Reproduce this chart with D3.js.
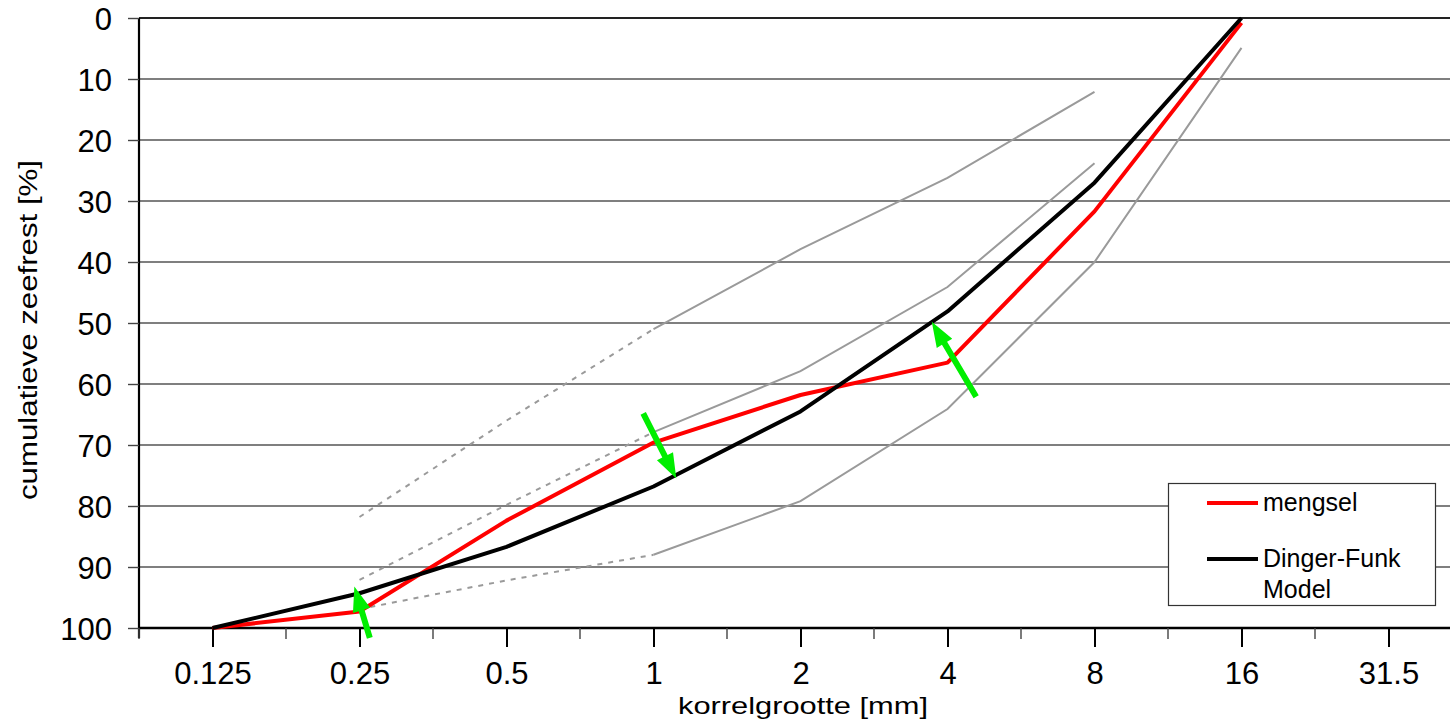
<!DOCTYPE html>
<html>
<head>
<meta charset="utf-8">
<script src="https://cdn.jsdelivr.net/npm/d3@7"></script>
<style>
  html, body { margin: 0; padding: 0; background: #fff; }
  svg { display: block; font-family: "Liberation Sans", Arial, sans-serif; }
</style>
</head>
<body>
<svg id="chart" width="1450" height="727"></svg>
<script>
// ---- data ----
const categories = ["0.125", "0.25", "0.5", "1", "2", "4", "8", "16", "31.5"];
const yTicks = [0, 10, 20, 30, 40, 50, 60, 70, 80, 90, 100];

const mengsel    = [100, 97.3, 82.4, 69.6, 61.8, 56.5, 31.7, 0.8];
const dingerFunk = [100, 94.3, 86.7, 76.8, 64.5, 48.1, 27.0, 0.0];

// grading limit lines (gray): dotted part starts at "0.25", solid part starts at "1"
const upperDotted  = [81.8, 66.0, 51.0];
const upperSolid   = [51.0, 37.9, 26.2, 12.1];
const middleDotted = [92.1, 79.8, 67.9];
const middleSolid  = [67.9, 57.9, 44.1, 23.8];
const lowerDotted  = [96.9, 92.2, 88.0];
const lowerSolid   = [88.0, 79.2, 64.1, 40.0, 4.9];

// annotation arrows: [tailIndex, tailValue, tipIndex, tipValue] (category index, % value)
const arrows = [
  [1.07, 101.6, 0.965, 93.2],
  [2.93, 64.8, 3.155, 75.5],
  [5.195, 62.1, 4.893, 49.8]
];

const legendItems = [
  { label: ["mengsel"], color: "#ff0000" },
  { label: ["Dinger-Funk", "Model"], color: "#000000" }
];

// ---- layout ----
const svg = d3.select("#chart");
const L = 139, T = 18, R = 1462, B = 628;

const x = d3.scalePoint().domain(categories).range([L, R]).padding(0.5);
const xb = d3.scaleBand().domain(categories).range([L, R]).paddingInner(0).paddingOuter(0);
const y = d3.scaleLinear().domain([0, 100]).range([T, B]);
const xi = i => x(categories[0]) + i * x.step();

// gridlines
svg.append("g").selectAll("line").data(yTicks.filter(v => v < 100)).join("line")
  .attr("x1", L).attr("x2", 1450)
  .attr("y1", d => y(d)).attr("y2", d => y(d))
  .attr("stroke", d => d === 0 ? "#222" : "#555")
  .attr("stroke-width", d => d === 0 ? 2 : 1.4);

// y axis
const yAxis = svg.append("g").attr("transform", `translate(${L},0)`)
  .call(d3.axisLeft(y).tickValues(yTicks).tickSize(11).tickPadding(16));
yAxis.select(".domain").attr("stroke", "#000").attr("stroke-width", 2.2)
  .attr("d", `M0,${T}V${B + 10}`);
yAxis.selectAll(".tick line").attr("stroke", "#444").attr("stroke-width", 1.4);
yAxis.selectAll(".tick text").attr("font-size", 31).attr("fill", "#000")
  .attr("font-family", "Liberation Sans, Arial, sans-serif").attr("dy", "0.36em").attr("x", -27);

// x axis
const xAxis = svg.append("g").attr("transform", `translate(0,${B})`)
  .call(d3.axisBottom(x).tickSize(19).tickPadding(18));
xAxis.select(".domain").attr("stroke", "#000").attr("stroke-width", 2.4)
  .attr("d", `M${L},0H1450`);
xAxis.selectAll(".tick line").attr("stroke", "#000").attr("stroke-width", 2);
xAxis.selectAll(".tick text").attr("font-size", 31).attr("fill", "#000")
  .attr("font-family", "Liberation Sans, Arial, sans-serif").attr("dy", "0.6em");
// minor ticks at category boundaries
svg.append("g").selectAll("line").data(categories.concat(["end"])).join("line")
  .attr("x1", (d, i) => L + i * xb.bandwidth()).attr("x2", (d, i) => L + i * xb.bandwidth())
  .attr("y1", B).attr("y2", B + 11)
  .attr("stroke", "#444").attr("stroke-width", 1.4);

// lines
const line = d3.line().x(d => xi(d[0])).y(d => y(d[1]));
const toPts = (arr, start) => arr.map((v, i) => [start + i, v]);

const gray = [
  { pts: toPts(upperDotted, 1), dash: "5,6" },
  { pts: toPts(middleDotted, 1), dash: "5,6" },
  { pts: toPts(lowerDotted, 1), dash: "5,6" },
  { pts: toPts(upperSolid, 3), dash: null },
  { pts: toPts(middleSolid, 3), dash: null },
  { pts: toPts(lowerSolid, 3), dash: null }
];
svg.append("g").selectAll("path").data(gray).join("path")
  .attr("d", d => line(d.pts))
  .attr("fill", "none").attr("stroke", "#9a9a9a").attr("stroke-width", 2)
  .attr("stroke-dasharray", d => d.dash);

svg.append("path").attr("d", line(toPts(mengsel, 0)))
  .attr("fill", "none").attr("stroke", "#ff0000").attr("stroke-width", 4).attr("stroke-linejoin", "round");
svg.append("path").attr("d", line(toPts(dingerFunk, 0)))
  .attr("fill", "none").attr("stroke", "#000").attr("stroke-width", 4).attr("stroke-linejoin", "round");

// arrows
const ag = svg.append("g");
arrows.forEach(a => {
  const x1 = xi(a[0]), y1 = y(a[1]), x2 = xi(a[2]), y2 = y(a[3]);
  const dx = x2 - x1, dy = y2 - y1, len = Math.hypot(dx, dy);
  const ux = dx / len, uy = dy / len, px = -uy, py = ux;
  const hl = 25, hw = 9, sw = 3;
  const bx = x2 - ux * hl, by = y2 - uy * hl;
  const pts = [
    [x1 + px * sw, y1 + py * sw],
    [bx + px * sw, by + py * sw],
    [bx + px * hw, by + py * hw],
    [x2, y2],
    [bx - px * hw, by - py * hw],
    [bx - px * sw, by - py * sw],
    [x1 - px * sw, y1 - py * sw]
  ];
  ag.append("polygon").attr("points", pts.map(p => p.join(",")).join(" "))
    .attr("fill", "#00ee00");
});

// legend
const lg = svg.append("g");
lg.append("rect").attr("x", 1168.5).attr("y", 483.5).attr("width", 267).attr("height", 122)
  .attr("fill", "#fff").attr("stroke", "#333").attr("stroke-width", 1.2);
const ly = [503, 559];
legendItems.forEach((it, i) => {
  lg.append("line").attr("x1", 1207).attr("x2", 1258).attr("y1", ly[i]).attr("y2", ly[i])
    .attr("stroke", it.color).attr("stroke-width", 4);
  it.label.forEach((t, j) => {
    lg.append("text").attr("x", 1263).attr("y", ly[i] + 8 + j * 31)
      .attr("font-size", 25).attr("fill", "#000").text(t);
  });
});

// axis titles
svg.append("text").attr("x", 803).attr("y", 714).attr("text-anchor", "middle")
  .attr("font-size", 24).attr("textLength", 250).attr("lengthAdjust", "spacingAndGlyphs")
  .text("korrelgrootte [mm]");
svg.append("text").attr("transform", "translate(37,330) rotate(-90)").attr("text-anchor", "middle")
  .attr("font-size", 26).attr("textLength", 340).attr("lengthAdjust", "spacingAndGlyphs")
  .text("cumulatieve zeefrest [%]");
</script>
</body>
</html>
